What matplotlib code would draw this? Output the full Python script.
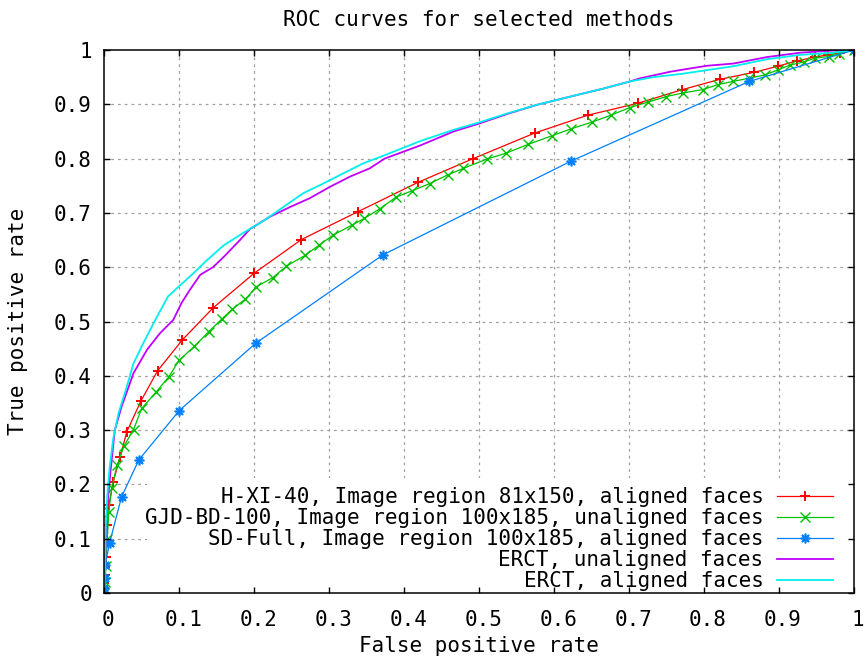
import matplotlib
matplotlib.use("Agg")
import matplotlib.pyplot as plt
import matplotlib.transforms as mtransforms
from matplotlib.patches import Rectangle

# ---------------- data ----------------
title = "ROC curves for selected methods"
xlabel = "False positive rate"
ylabel = "True positive rate"
tick_values = [0, 0.1, 0.2, 0.3, 0.4, 0.5, 0.6, 0.7, 0.8, 0.9, 1]
tick_labels = ["0", "0.1", "0.2", "0.3", "0.4", "0.5", "0.6", "0.7", "0.8", "0.9", "1"]

labels = [
    "H-XI-40, Image region 81x150, aligned faces",
    "GJD-BD-100, Image region 100x185, unaligned faces",
    "SD-Full, Image region 100x185, aligned faces",
    "ERCT, unaligned faces",
    "ERCT, aligned faces",
]

hxi_fpr = [0, 0, 0, 0.001, 0.001, 0.002, 0.003, 0.004, 0.006, 0.012, 0.021, 0.030,
           0.049, 0.071, 0.104, 0.145, 0.200, 0.263, 0.338, 0.418, 0.492, 0.574,
           0.645, 0.712, 0.771, 0.821, 0.867, 0.898, 0.924, 0.948, 0.965, 0.981, 1.0]
hxi_tpr = [0, 0.009, 0.018, 0.033, 0.048, 0.067, 0.098, 0.125, 0.162, 0.205, 0.250, 0.297,
           0.354, 0.409, 0.466, 0.525, 0.589, 0.651, 0.702, 0.756, 0.800, 0.847,
           0.880, 0.902, 0.927, 0.946, 0.959, 0.970, 0.980, 0.987, 0.991, 0.995, 1.0]

gjd_fpr = [0, 0.001, 0.002, 0.004, 0.006, 0.010, 0.017, 0.026, 0.039, 0.050, 0.069, 0.086,
           0.100, 0.120, 0.139, 0.157, 0.171, 0.188, 0.203, 0.225, 0.243, 0.268, 0.287,
           0.305, 0.331, 0.347, 0.368, 0.389, 0.411, 0.434, 0.458, 0.479, 0.510, 0.536,
           0.565, 0.597, 0.623, 0.650, 0.676, 0.701, 0.725, 0.749, 0.772, 0.798, 0.818,
           0.838, 0.860, 0.881, 0.898, 0.914, 0.933, 0.948, 0.966, 0.980, 1.0]
gjd_tpr = [0, 0.02, 0.05, 0.10, 0.15, 0.194, 0.235, 0.270, 0.301, 0.340, 0.370, 0.398,
           0.429, 0.454, 0.481, 0.505, 0.523, 0.541, 0.564, 0.581, 0.602, 0.622, 0.641,
           0.659, 0.678, 0.690, 0.708, 0.729, 0.741, 0.754, 0.770, 0.782, 0.799, 0.810,
           0.826, 0.842, 0.855, 0.867, 0.880, 0.894, 0.904, 0.914, 0.921, 0.927, 0.936,
           0.942, 0.948, 0.954, 0.963, 0.972, 0.978, 0.985, 0.988, 0.993, 1.0]

sd_fpr = [0, 0, 0.001, 0.001, 0.007, 0.023, 0.046, 0.100, 0.202, 0.372, 0.622, 0.860, 1.0]
sd_tpr = [0, 0.009, 0.027, 0.051, 0.092, 0.177, 0.245, 0.336, 0.460, 0.623, 0.795, 0.942, 1.0]

ercu_fpr = [0, 0.001, 0.002, 0.004, 0.008, 0.014, 0.023, 0.039, 0.057, 0.074, 0.092, 0.103,
            0.114, 0.128, 0.145, 0.160, 0.181, 0.194, 0.221, 0.248, 0.274, 0.301, 0.328,
            0.354, 0.374, 0.421, 0.466, 0.501, 0.537, 0.577, 0.630, 0.666, 0.701, 0.715,
            0.755, 0.777, 0.804, 0.839, 0.884, 0.928, 0.972, 1.0]
ercu_tpr = [0, 0.04, 0.10, 0.16, 0.22, 0.300, 0.343, 0.405, 0.448, 0.478, 0.503, 0.534,
            0.558, 0.586, 0.600, 0.620, 0.650, 0.670, 0.693, 0.711, 0.727, 0.748, 0.767,
            0.782, 0.800, 0.824, 0.850, 0.865, 0.882, 0.899, 0.917, 0.929, 0.942, 0.948,
            0.960, 0.965, 0.971, 0.975, 0.987, 0.995, 0.999, 1.0]

erca_fpr = [0, 0.001, 0.002, 0.004, 0.007, 0.012, 0.019, 0.030, 0.039, 0.052, 0.068, 0.085,
            0.099, 0.119, 0.137, 0.159, 0.185, 0.212, 0.239, 0.265, 0.292, 0.319, 0.345,
            0.368, 0.390, 0.421, 0.466, 0.501, 0.537, 0.577, 0.630, 0.666, 0.701, 0.732,
            0.770, 0.804, 0.839, 0.884, 0.928, 0.972, 1.0]
erca_tpr = [0, 0.05, 0.12, 0.18, 0.23, 0.285, 0.331, 0.380, 0.423, 0.460, 0.503, 0.546,
            0.564, 0.589, 0.613, 0.640, 0.663, 0.685, 0.711, 0.736, 0.754, 0.773, 0.791,
            0.803, 0.815, 0.832, 0.853, 0.867, 0.883, 0.899, 0.917, 0.929, 0.942, 0.950,
            0.956, 0.963, 0.970, 0.983, 0.991, 0.995, 1.0]

# ---------------- style ----------------
FONT = "DejaVu Sans Mono"
FS = 15
plt.rcParams["font.family"] = FONT
plt.rcParams["font.size"] = FS

fig = plt.figure(figsize=(8.66, 6.56), dpi=100)
ax = fig.add_axes([104.3 / 866, 1 - 593 / 656, 749.7 / 866, 543 / 656])
ax.set_xlim(0, 1)
ax.set_ylim(0, 1)
ax.set_axisbelow(False)

# dotted grid (drawn manually so the opaque key box can cover it)
for v in tick_values[1:-1]:
    ax.axvline(v, color="#a0a0a0", lw=0.9, ls=(0, (2.2, 3.2)), zorder=0.5)
    ax.axhline(v, color="#a0a0a0", lw=0.9, ls=(0, (2.2, 3.2)), zorder=0.5)

# opaque key background
ax.add_patch(Rectangle((0.057, 0.0), 0.943, 0.212, transform=ax.transAxes,
                       facecolor="white", edgecolor="none", zorder=1))

ax.plot(hxi_fpr, hxi_tpr, color="#ff0000", lw=0.9, marker="+", ms=6.5, mew=1.4,
        label=labels[0], zorder=2)
ax.plot(gjd_fpr, gjd_tpr, color="#00c000", lw=0.9, marker="x", ms=6.5, mew=1.0,
        label=labels[1], zorder=2)
ax.plot(sd_fpr, sd_tpr, color="#0080ff", lw=0.9, marker=(8, 2, 0), ms=7, mew=1.2,
        label=labels[2], zorder=2)
ax.plot(ercu_fpr, ercu_tpr, color="#c000ff", lw=1.3, label=labels[3], zorder=2)
ax.plot(erca_fpr, erca_tpr, color="#00eeee", lw=1.3, label=labels[4], zorder=2)

ax.set_xticks(tick_values)
ax.set_xticklabels(tick_labels)
ax.set_yticks(tick_values)
ax.set_yticklabels(tick_labels)
ax.tick_params(direction="in", length=4.5, width=1.0, color="black",
               top=True, right=True, labelsize=FS, pad=9)
ax.tick_params(axis="x", pad=12)
offset = mtransforms.ScaledTranslation(4 / 100, 0, fig.dpi_scale_trans)
for lab in ax.get_xticklabels():
    lab.set_transform(lab.get_transform() + offset)

for sp in ax.spines.values():
    sp.set_linewidth(1.1)
    sp.set_color("black")
    sp.set_zorder(3)

ax.set_title(title, fontsize=FS, y=(593 - 20) / 543, va="center", pad=0)
ax.set_xlabel(xlabel, fontsize=FS)
ax.xaxis.set_label_coords(0.5, (593 - 646) / 543)
ax.xaxis.label.set_va("center")
ax.set_ylabel(ylabel, fontsize=FS)
ax.yaxis.set_label_coords((18.5 - 104.3) / 749.7, 0.5)
ax.yaxis.label.set_va("center")

leg = ax.legend(loc="lower right", bbox_to_anchor=((833.2 - 104.3) / 749.7, (593 - 591) / 543),
                frameon=False, markerfirst=False, numpoints=1, fontsize=FS,
                handlelength=2.7, handletextpad=0.65, labelspacing=0.05,
                borderpad=0, borderaxespad=0)
leg.set_zorder(5)

fig.savefig("out.png", dpi=100)
